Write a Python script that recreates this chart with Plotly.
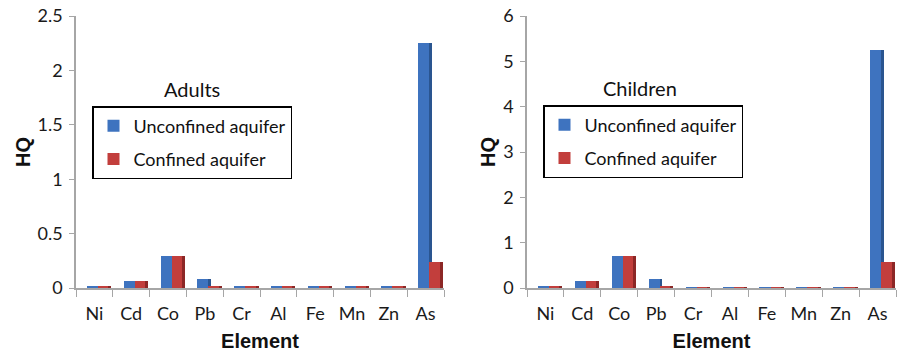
import plotly.graph_objects as go

elements = ["Ni", "Cd", "Co", "Pb", "Cr", "Al", "Fe", "Mn", "Zn", "As"]
adults_unconfined = [0.02, 0.06, 0.29, 0.08, 0.01, 0.01, 0.01, 0.01, 0.01, 2.25]
adults_confined = [0.02, 0.06, 0.29, 0.02, 0.01, 0.01, 0.01, 0.01, 0.01, 0.24]
children_unconfined = [0.05, 0.16, 0.70, 0.20, 0.02, 0.02, 0.02, 0.02, 0.02, 5.25]
children_confined = [0.05, 0.16, 0.70, 0.05, 0.02, 0.02, 0.02, 0.02, 0.02, 0.57]

BLUE, BLUE_D = "#3E73BF", "#2A5590"
RED, RED_D = "#C23E3C", "#8C2726"
FONT = "Lato"

fig = go.Figure()


def add_group(vals_u, vals_c, xa, ya, legend):
    common = dict(x=elements, xaxis=xa, yaxis=ya, legend=legend)
    fig.add_trace(go.Bar(y=vals_u, name="Unconfined aquifer", marker_color=BLUE,
                         offset=-0.2, width=0.3, marker_line_width=0,
                         legendgroup=legend + "u", **common))
    fig.add_trace(go.Bar(y=vals_u, marker_color=BLUE_D, offset=0.1, width=0.07,
                         marker_line_width=0, showlegend=False, **common))
    fig.add_trace(go.Bar(y=vals_c, name="Confined aquifer", marker_color=RED,
                         offset=0.1, width=0.28, marker_line_width=0,
                         legendgroup=legend + "c", **common))
    fig.add_trace(go.Bar(y=vals_c, marker_color=RED_D, offset=0.38, width=0.08,
                         marker_line_width=0, showlegend=False, **common))


add_group(adults_unconfined, adults_confined, "x", "y", "legend")
add_group(children_unconfined, children_confined, "x2", "y2", "legend2")

W = 906
H = 353


def px(x):
    return x / W


def py(y):
    return 1 - y / H


ydom = [py(288), py(16)]

xcommon = dict(type="category", showline=True, linecolor="#A6A6A6", linewidth=1.5,
               ticks="outside", tickson="boundaries", ticklen=7, tickcolor="#A6A6A6",
               tickfont=dict(family=FONT, size=18, color="#1a1a1a"),
               ticklabelstandoff=9, automargin=False,
               range=[-0.5, 9.5], showgrid=False,
               title=dict(text="<b>Element</b>", font=dict(family="Liberation Sans", size=20, color="#111"),
                          standoff=11))
ycommon = dict(showline=True, linecolor="#A6A6A6", linewidth=1.5, ticks="outside",
               ticklen=5, tickcolor="#A6A6A6", showgrid=False, zeroline=False,
               automargin=False, ticklabelstandoff=3, ticklabeloverflow="allow",
               tickfont=dict(family=FONT, size=18, color="#1a1a1a"),
               title=dict(text="<b>HQ</b>", font=dict(family="Liberation Sans", size=20, color="#111"),
                          standoff=2))

fig.update_layout(
    width=W, height=H,
    margin=dict(l=0, r=0, t=0, b=0, autoexpand=False),
    paper_bgcolor="white", plot_bgcolor="white",
    barmode="overlay",
    bargap=0,
    xaxis=dict(domain=[px(76), px(444)], anchor="y", **xcommon),
    yaxis=dict(domain=ydom, anchor="x", range=[0, 2.5], tickvals=[0, 0.5, 1, 1.5, 2, 2.5],
               ticktext=["0", "0.5", "1", "1.5", "2", "2.5"], **ycommon),
    xaxis2=dict(domain=[px(527), px(896)], anchor="y2", **xcommon),
    yaxis2=dict(domain=ydom, anchor="x2", range=[0, 6], tickvals=[0, 1, 2, 3, 4, 5, 6], **ycommon),
    legend=dict(x=px(92), y=py(106), xanchor="left", yanchor="top",
                bordercolor="black", borderwidth=1.5, bgcolor="white",
                font=dict(family=FONT, size=18, color="#111"), tracegroupgap=7,
                itemwidth=30),
    legend2=dict(x=px(543), y=py(105), xanchor="left", yanchor="top",
                 bordercolor="black", borderwidth=1.5, bgcolor="white",
                 font=dict(family=FONT, size=18, color="#111"), tracegroupgap=7,
                 itemwidth=30),
    annotations=[
        dict(text="Adults", x=px(192), y=py(103), xref="paper", yref="paper",
             xanchor="center", yanchor="bottom",
             showarrow=False, font=dict(family=FONT, size=20, color="#111")),
        dict(text="Children", x=px(640), y=py(102), xref="paper", yref="paper",
             xanchor="center", yanchor="bottom",
             showarrow=False, font=dict(family=FONT, size=20, color="#111")),
    ],
)

fig.write_html("out.html", config={"displayModeBar": False},
               post_script="document.body.style.margin='0';")
